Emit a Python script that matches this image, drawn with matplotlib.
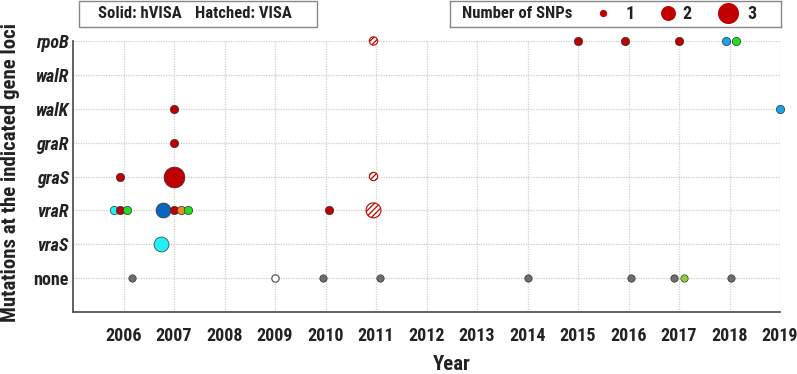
import matplotlib
matplotlib.use("Agg")
import matplotlib.pyplot as plt
from matplotlib.patches import Rectangle
from matplotlib import font_manager

# ---------------- data ----------------
genes = ['none', 'vraS', 'vraR', 'graS', 'graR', 'walK', 'walR', 'rpoB']
years = list(range(2006, 2020))
year_labels = [str(y) for y in years]

pt_gene = ['rpoB', 'rpoB', 'rpoB', 'rpoB', 'rpoB', 'rpoB',
           'walK', 'walK',
           'graR',
           'graS', 'graS', 'graS',
           'vraR', 'vraR', 'vraR', 'vraR', 'vraR', 'vraR', 'vraR', 'vraR', 'vraR',
           'vraS',
           'none', 'none', 'none', 'none', 'none', 'none', 'none', 'none', 'none']
pt_year = [2010.95, 2015.0, 2015.93, 2017.0, 2017.93, 2018.13,
           2007.0, 2019.0,
           2007.0,
           2005.94, 2007.0, 2010.95,
           2005.81, 2005.94, 2006.07, 2006.79, 2007.0, 2007.14, 2007.28, 2010.06, 2010.95,
           2006.74,
           2006.16, 2009.0, 2009.95, 2011.07, 2014.0, 2016.05, 2016.9, 2017.1, 2018.02]
pt_color = ['red', 'red', 'red', 'red', 'lightblue', 'green',
            'red', 'lightblue',
            'red',
            'red', 'red', 'red',
            'cyan', 'red', 'green', 'darkblue', 'red', 'orange', 'green', 'red', 'red',
            'cyan',
            'gray', 'white', 'gray', 'gray', 'gray', 'gray', 'gray', 'lightgreen', 'gray']
pt_snps = [1, 1, 1, 1, 1, 1,
           1, 1,
           1,
           1, 3, 1,
           1, 1, 1, 2, 1, 1, 1, 1, 2,
           2,
           0, 0, 0, 0, 0, 0, 0, 0, 0]
pt_hatched = [True, False, False, False, False, False,
              False, False,
              False,
              False, False, True,
              False, False, False, False, False, False, False, False, True,
              False,
              False, False, False, False, False, False, False, False, False]

legend_snps = [1, 2, 3]

# ---------------- style ----------------
palette = {'red': '#C00000', 'lightblue': '#1AA3EA', 'green': '#22DD22',
           'cyan': '#22EEF5', 'darkblue': '#0866BE', 'orange': '#F28A1A',
           'gray': '#6E6E6E', 'white': '#FFFFFF', 'lightgreen': '#8CD13C'}
size_map = {0: 28, 1: 36, 2: 115, 3: 225}
legend_size_map = {1: 18, 2: 95, 3: 200}

names = {f.name for f in font_manager.fontManager.ttflist}
fam = 'Roboto Condensed' if 'Roboto Condensed' in names else 'Liberation Sans'
plt.rcParams['font.family'] = [fam, 'DejaVu Sans']
plt.rcParams['hatch.linewidth'] = 0.9

fig = plt.figure(figsize=(7.97, 3.74), dpi=100)
ax = fig.add_axes([73/797, 1-312/374, (780-73)/797, (312-41)/374])

ypos = {g: i for i, g in enumerate(genes, start=1)}

for g, x, c, s, h in zip(pt_gene, pt_year, pt_color, pt_snps, pt_hatched):
    y = ypos[g]
    if h:
        ax.scatter([x], [y], s=size_map[s], facecolor='white', edgecolor=palette[c],
                   hatch='//////', linewidth=0.8, zorder=3, clip_on=False)
    else:
        ec = '#5a5a5a' if c == 'white' else '#333333'
        lw = 0.9 if c == 'white' else 0.5
        ax.scatter([x], [y], s=size_map[s], facecolor=palette[c], edgecolor=ec,
                   linewidth=lw, zorder=3, clip_on=False)

ax.set_xlim(2005, 2019)
ax.set_ylim(0, 8)
ax.set_xticks(years)
ax.set_xticklabels(year_labels, fontsize=13, fontweight='bold', color='#222222')
ax.set_yticks(range(1, len(genes) + 1))
ylabels = ax.set_yticklabels(genes, fontsize=13, fontweight='bold', color='#222222')
for lab in ylabels:
    if lab.get_text() != 'none':
        lab.set_fontstyle('italic')
ax.tick_params(axis='both', length=0)
ax.tick_params(axis='x', pad=11)
ax.tick_params(axis='y', pad=3)
ax.grid(True, color='#cfcfcf', linestyle=(0, (1, 1)), linewidth=0.9, zorder=0)
ax.set_axisbelow(True)
for side in ('top', 'right'):
    ax.spines[side].set_visible(False)
for side in ('left', 'bottom'):
    ax.spines[side].set_color('#555555')
    ax.spines[side].set_linewidth(1.3)

fig.text(452/797, 1-364/374, 'Year', ha='center', va='center', fontsize=15,
         fontweight='bold', color='#222222')
fig.text(11/797, 1-173/374, 'Mutations at the indicated gene loci', ha='center',
         va='center', rotation=90, fontsize=15, fontweight='bold', color='#222222')

# left box
fig.patches.append(Rectangle((79/797, 1-27/374), (317-79)/797, 26/374,
                             transform=fig.transFigure, facecolor='white',
                             edgecolor='#888888', linewidth=1.0))
fig.text(140/797, 1-14/374, 'Solid: hVISA', ha='center', va='center', fontsize=12,
         fontweight='bold', color='#222222')
fig.text(243/797, 1-14/374, 'Hatched: VISA', ha='center', va='center', fontsize=12,
         fontweight='bold', color='#222222')

# right box (SNP legend)
lax = fig.add_axes([450/797, 1-27/374, (781-450)/797, 26/374])
lax.set_xlim(0, 331)
lax.set_ylim(0, 1)
lax.set_xticks([])
lax.set_yticks([])
for sp in lax.spines.values():
    sp.set_color('#888888')
    sp.set_linewidth(1.0)
lax.text(67, 0.5, 'Number of SNPs', ha='center', va='center', fontsize=12,
         fontweight='bold', color='#222222')
mark_x = [153, 218, 278]
lab_x = [180, 237, 302]
for n, mx, lx in zip(legend_snps, mark_x, lab_x):
    lax.scatter([mx], [0.52], s=legend_size_map[n], color=palette['red'], zorder=3)
    lax.text(lx, 0.5, str(n), ha='center', va='center', fontsize=13,
             fontweight='bold', color='#222222')

fig.savefig('out.png', dpi=100)
